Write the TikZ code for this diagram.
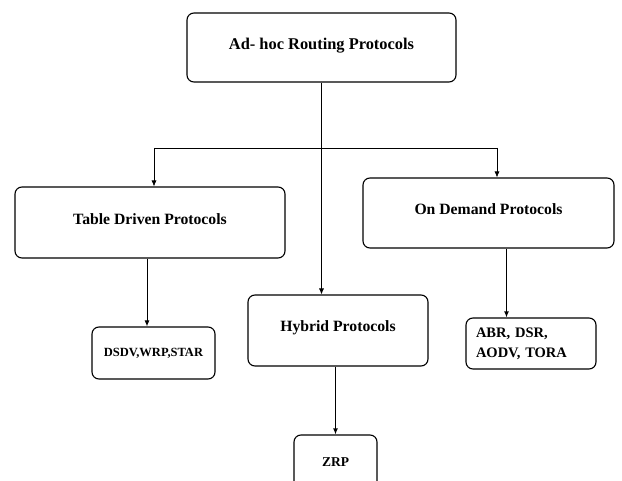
\documentclass[tikz,border=0pt]{standalone}
\usepackage{fontspec}
\setmainfont{Liberation Serif}
\usepackage{tikz}
\usetikzlibrary{calc,positioning,arrows.meta,arrows}
\tikzset{
protbox/.style={
  draw,
  rounded corners=7pt,
  line width=1.1pt,
  align=center,
  inner sep=0pt,
  font=\bfseries
  },
bigbox/.style={
  protbox,
  font=\fontsize{15.7}{18}\selectfont\bfseries
  },
smallbox/.style={
  protbox,
  font=\fontsize{#1}{20}\selectfont\bfseries
  }
}

\begin{document}
\begin{tikzpicture}[>={Latex[length=6pt,width=5pt]},x=1pt,y=1pt]
            \clip (0,0) rectangle (622,480);
            \fill[white] (0,0) rectangle (622,480);
            % top level
            \node[bigbox,minimum width=269pt,minimum height=69pt,text depth=7pt,
                font=\fontsize{16.4}{18}\selectfont\bfseries] (root) at (321.5,432.5) {Ad- hoc Routing Protocols};
            % second level
            \node[bigbox,minimum width=270pt,minimum height=71pt,text depth=7pt] (table) at (150,257.5) {Table Driven Protocols};
            \node[bigbox,minimum width=251pt,minimum height=70pt,text depth=8pt] (ondemand) at (488.5,267) {On Demand Protocols};
            \node[bigbox,minimum width=180pt,minimum height=71pt,text depth=8pt] (hybrid) at (338,149.5) {Hybrid Protocols};
            % leaves
            \node[smallbox=12.5,minimum width=123pt,minimum height=52pt] (dsdv) at (153.5,127) {DSDV,WRP,STAR};
            \node[smallbox=14.5,minimum width=130pt,minimum height=51pt,text width=110pt,align=left] (abr) at (531,136.5) {ABR, DSR,\\AODV, TORA};
            \node[smallbox=13.5,minimum width=83pt,minimum height=54pt] (zrp) at (335.5,18) {ZRP};
            % connectors
            \coordinate (jl) at (154,332);
            \coordinate (jr) at (497,332);
            \draw[line width=0.7pt] (jl) -- (jr);
            \draw[->,line width=0.7pt] (jl) -- (jl |- table.north);
            \draw[->,line width=0.7pt] (jr) -- (jr |- ondemand.north);
            \draw[->,line width=0.7pt] (root.south) -- (root.south |- hybrid.north);
            \draw[->,line width=1pt] ([xshift=-3pt]table.south) -- ([xshift=-3pt]table.south |- dsdv.north);
            \draw[->,line width=1.2pt] ([xshift=18pt]ondemand.south) -- ([xshift=18pt]ondemand.south |- abr.north);
            \draw[->,line width=1.2pt] (zrp.north |- hybrid.south) -- (zrp.north);
        \end{tikzpicture}
\end{document}
